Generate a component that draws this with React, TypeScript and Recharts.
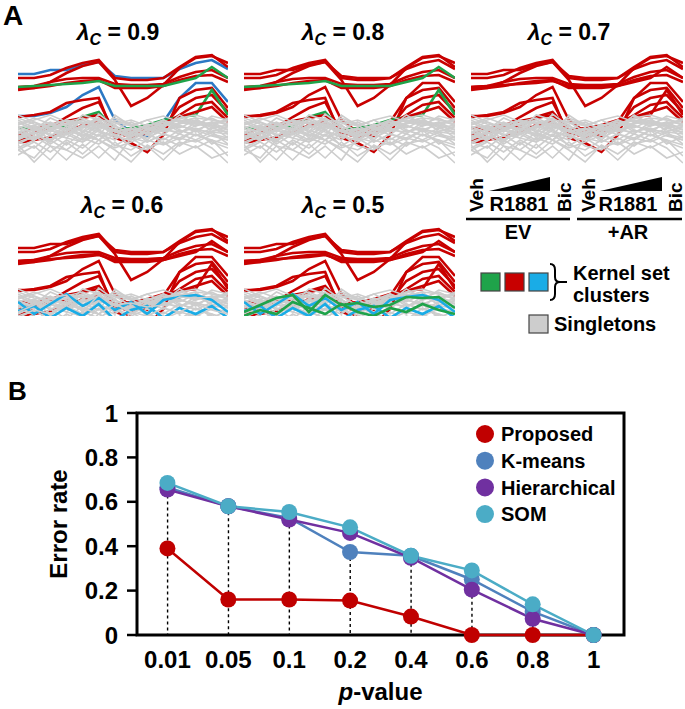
import React from 'react';
import {
  LineChart, Line, XAxis, YAxis, ComposedChart, Bar, ReferenceArea, Legend,
} from 'recharts';

const FONT = '"Liberation Sans", Arial, Helvetica, sans-serif';

// ---------- panel A data ----------
// 14 conditions: EV (Veh, R1881 x5, Bic) then +AR (same)
const conditions = [
  'EV Veh', 'EV R1', 'EV R2', 'EV R3', 'EV R4', 'EV R5', 'EV Bic',
  'AR Veh', 'AR R1', 'AR R2', 'AR R3', 'AR R4', 'AR R5', 'AR Bic',
];

// strongly responding genes (upper band)
const upperProfiles = [
  [96, 96, 100, 100, 105, 108, 94, 92, 92, 92, 101, 107, 110, 101],
  [92, 92, 95, 102, 107, 110, 92, 90, 90, 92, 103, 113, 115, 103],
  [82, 82, 88, 97, 104, 108, 90, 64, 72, 85, 102, 112, 114, 107],
  [83, 84, 88, 91, 92, 92, 86, 85, 85, 86, 93, 98, 100, 92],
  [80, 82, 84, 87, 89, 90, 82, 82, 82, 84, 90, 94, 95, 88],
  [83, 84, 85, 86, 87, 89, 84, 84, 84, 84, 88, 92, 103, 92],
];

// moderately responding genes
const middleProfiles = [
  [54, 54, 57, 63, 75, 83, 50, 38, 34, 48, 72, 87, 87, 68],
  [53, 55, 58, 67, 70, 72, 32, 27, 18, 35, 72, 80, 82, 62],
  [28, 37, 43, 53, 62, 68, 37, 33, 37, 43, 63, 72, 75, 58],
  [42, 42, 43, 43, 53, 58, 40, 42, 45, 50, 53, 55, 80, 55],
  [35, 42, 45, 49, 52, 55, 40, 36, 38, 45, 55, 65, 68, 52],
  [27, 30, 33, 38, 45, 48, 38, 38, 42, 47, 53, 58, 63, 48],
];

// never clustered
const singletonProfiles = [
  [40, 45, 38, 50, 42, 48, 35, 40, 44, 38, 46, 50, 42, 45],
  [35, 30, 42, 36, 45, 40, 48, 38, 32, 40, 45, 38, 48, 40],
  [25, 8, 24, 10, 26, 12, 28, 14, 24, 10, 26, 30, 22, 7],
  [45, 50, 55, 48, 52, 45, 40, 35, 38, 45, 52, 55, 50, 48],
  [30, 38, 28, 42, 35, 30, 45, 33, 40, 48, 38, 42, 36, 32],
  [50, 42, 48, 40, 55, 50, 38, 42, 36, 44, 50, 46, 52, 44],
  [20, 28, 18, 30, 22, 35, 25, 20, 30, 25, 32, 28, 35, 30],
  [38, 32, 45, 38, 30, 42, 50, 45, 35, 42, 36, 48, 40, 38],
  [42, 48, 40, 35, 45, 52, 42, 30, 38, 50, 44, 40, 46, 50],
  [28, 22, 35, 25, 38, 30, 22, 28, 35, 30, 40, 35, 30, 25],
  [48, 40, 52, 45, 48, 42, 46, 50, 44, 48, 42, 50, 45, 42],
  [15, 24, 10, 28, 16, 30, 20, 8, 25, 16, 28, 22, 30, 14],
  [33, 42, 30, 38, 50, 40, 32, 38, 42, 35, 48, 52, 38, 36],
  [44, 36, 40, 46, 38, 56, 44, 36, 46, 40, 38, 44, 48, 46],
  [22, 30, 40, 32, 28, 36, 30, 42, 28, 36, 30, 40, 26, 34],
  [36, 44, 34, 44, 40, 34, 55, 44, 50, 42, 55, 46, 44, 40],
  [52, 46, 44, 50, 46, 50, 48, 44, 50, 54, 48, 52, 50, 46],
  [26, 34, 24, 20, 32, 26, 36, 24, 20, 32, 24, 36, 28, 22],
  [46, 52, 46, 40, 42, 46, 40, 48, 40, 46, 50, 44, 54, 50],
  [20, 12, 30, 20, 12, 24, 10, 32, 22, 28, 16, 24, 12, 18],
  [38, 40, 36, 32, 44, 38, 34, 30, 42, 38, 44, 40, 38, 44],
  [31, 36, 46, 40, 34, 44, 38, 34, 44, 50, 40, 34, 42, 38],
  [55, 48, 42, 46, 50, 44, 52, 46, 42, 46, 52, 48, 44, 52],
];

// low-level genes that only cluster at small lambda
const lowProfiles = [
  [42, 30, 40, 50, 38, 46, 34, 42, 30, 44, 47, 49, 44, 32],
  [33, 38, 26, 36, 28, 40, 24, 34, 38, 26, 36, 30, 38, 26],
  [32, 39, 46, 49, 32, 49, 39, 41, 37, 39, 47, 46, 47, 36],
  [28, 34, 30, 42, 36, 30, 40, 32, 28, 36, 32, 40, 34, 30],
];

const lambdas = ['0.9', '0.8', '0.7', '0.6', '0.5'];

// cluster membership per lambda: r/g/b/c = cluster colour, s = singleton
const upperClusters = [
  ['b', 'r', 'r', 'r', 'r', 'g'],
  ['r', 'r', 'r', 'r', 'r', 'g'],
  ['r', 'r', 'r', 'r', 'r', 'r'],
  ['r', 'r', 'r', 'r', 'r', 'r'],
  ['r', 'r', 'r', 'r', 'r', 'r'],
];
const middleClusters = [
  ['b', 'r', 'r', 'g', 'r', 'r'],
  ['r', 'r', 'r', 'g', 'r', 'r'],
  ['r', 'r', 'r', 'r', 'r', 'r'],
  ['r', 'r', 'r', 'r', 'r', 'r'],
  ['r', 'r', 'r', 'r', 'r', 'r'],
];
const lowClusters = [
  ['s', 's', 's', 's'],
  ['s', 's', 's', 's'],
  ['s', 's', 's', 's'],
  ['c', 'c', 's', 's'],
  ['c', 'c', 'g', 'g'],
];

const clusterColors = {
  r: '#c80000',
  g: '#1fa34a',
  b: '#2b78c4',
  c: '#1aace6',
  s: '#cdcdcd',
};

// ---------- panel B data ----------
const pValues = ['0.01', '0.05', '0.1', '0.2', '0.4', '0.6', '0.8', '1'];
const proposed = [0.39, 0.16, 0.16, 0.155, 0.083, 0, 0, 0];
const kmeans = [0.665, 0.58, 0.527, 0.374, 0.357, 0.25, 0.105, 0];
const hierarchical = [0.655, 0.58, 0.52, 0.46, 0.348, 0.204, 0.073, 0];
const som = [0.685, 0.58, 0.554, 0.485, 0.357, 0.291, 0.138, 0];

const methods = [
  { key: 'proposed', name: 'Proposed', color: '#c00000' },
  { key: 'kmeans', name: 'K-means', color: '#4f81bd' },
  { key: 'hierarchical', name: 'Hierarchical', color: '#7030a0' },
  { key: 'som', name: 'SOM', color: '#4bacc6' },
];

// ---------- tables ----------
const profileRows = conditions.map((cond, i) => {
  const row: any = { idx: i, cond };
  upperProfiles.forEach((p, k) => { row['u' + k] = p[i]; });
  middleProfiles.forEach((p, k) => { row['m' + k] = p[i]; });
  singletonProfiles.forEach((p, k) => { row['s' + k] = p[i]; });
  lowProfiles.forEach((p, k) => { row['l' + k] = p[i]; });
  return row;
});

const errorRows = pValues.map((p, i) => ({
  p,
  proposed: proposed[i],
  kmeans: kmeans[i],
  hierarchical: hierarchical[i],
  som: som[i],
  drop: Math.min(kmeans[i], hierarchical[i], som[i]),
}));

function seriesFor(li: number) {
  const list: { key: string; code: string }[] = [];
  upperClusters[li].forEach((c, k) => list.push({ key: 'u' + k, code: c }));
  middleClusters[li].forEach((c, k) => list.push({ key: 'm' + k, code: c }));
  singletonProfiles.forEach((_, k) => list.push({ key: 's' + k, code: 's' }));
  lowClusters[li].forEach((c, k) => list.push({ key: 'l' + k, code: c }));
  return list;
}

const slots = [
  { left: 18, top: 50, width: 210, cx: 118, ty: 40, yMin: 0 },
  { left: 244, top: 50, width: 211, cx: 343, ty: 40, yMin: 0 },
  { left: 471, top: 50, width: 212, cx: 569, ty: 40, yMin: 0 },
  { left: 18, top: 224, width: 210, cx: 122, ty: 213, yMin: 28 },
  { left: 244, top: 224, width: 211, cx: 343, ty: 213, yMin: 28 },
];

function ProfilePanel({ li }: { li: number }) {
  const s = slots[li];
  const h = 120 - s.yMin;
  return (
    <div style={{ position: 'absolute', left: s.left, top: s.top }}>
      <LineChart width={s.width} height={h} data={profileRows} margin={{ top: 0, right: 0, bottom: 0, left: 0 }}>
        <XAxis dataKey="idx" type="number" domain={[0, 13]} hide />
        <YAxis type="number" domain={[s.yMin, 120]} hide allowDataOverflow />
        {seriesFor(li).map((sr) => (
          <Line
            key={sr.key}
            dataKey={sr.key}
            stroke={clusterColors[sr.code]}
            strokeWidth={sr.code === 's' ? 1.6 : 2.6}
            dot={false}
            activeDot={false}
            isAnimationActive={false}
          />
        ))}
      </LineChart>
    </div>
  );
}

function PanelAText() {
  const t = { fontFamily: FONT, fontWeight: 'bold' as const, fill: '#000' };
  return (
    <svg width={685} height={370} style={{ position: 'absolute', left: 0, top: 0 }}>
      <text x={3} y={25} fontSize={28} {...t}>A</text>
      {lambdas.map((l, i) => (
        <text key={l} x={slots[i].cx} y={slots[i].ty} textAnchor="middle" fontSize={23} {...t} style={{ whiteSpace: 'pre' }}>
          <tspan fontStyle="italic">λ</tspan>
          <tspan fontStyle="italic" fontSize={16} dy={5}>C</tspan>
          <tspan dy={-5}>{' = ' + l}</tspan>
        </text>
      ))}

      {/* condition key */}
      <text transform="translate(483,212) rotate(-90)" fontSize={19} {...t}>Veh</text>
      <polygon points="489,191 550,177 550,191" fill="#000" />
      <text x={519} y={211} textAnchor="middle" fontSize={20} {...t}>R1881</text>
      <text transform="translate(571,212) rotate(-90)" fontSize={19} {...t}>Bic</text>
      <line x1={466} x2={570} y1={219} y2={219} stroke="#000" strokeWidth={2.5} />
      <text x={518} y={239} textAnchor="middle" fontSize={20} {...t}>EV</text>

      <text transform="translate(595,212) rotate(-90)" fontSize={19} {...t}>Veh</text>
      <polygon points="600,191 662,177 662,191" fill="#000" />
      <text x={628} y={211} textAnchor="middle" fontSize={20} {...t}>R1881</text>
      <text transform="translate(682,212) rotate(-90)" fontSize={19} {...t}>Bic</text>
      <line x1={577} x2={682} y1={219} y2={219} stroke="#000" strokeWidth={2.5} />
      <text x={628} y={239} textAnchor="middle" fontSize={20} {...t}>+AR</text>

      {/* cluster key */}
      <rect x={481} y={273} width={19} height={18} fill={clusterColors.g} stroke="#444" strokeWidth={1.2} />
      <rect x={505} y={273} width={19} height={18} fill={clusterColors.r} stroke="#444" strokeWidth={1.2} />
      <rect x={529} y={273} width={19} height={18} fill={clusterColors.c} stroke="#444" strokeWidth={1.2} />
      <path
        d="M550,264 Q555,264 555,270 L555,277 Q555,282 560,282 Q555,282 555,287 L555,294 Q555,300 550,300 M560,282 L567,282"
        fill="none" stroke="#000" strokeWidth={2}
      />
      <text x={573} y={280} fontSize={20} {...t}>Kernel set</text>
      <text x={573} y={302} fontSize={20} {...t}>clusters</text>
      <rect x={529} y={315} width={19} height={18} fill="#cdcdcd" stroke="#444" strokeWidth={1.2} />
      <text x={554} y={331} fontSize={20} {...t}>Singletons</text>
    </svg>
  );
}

function DropLine(props: any) {
  const { x, y, width, height } = props;
  if (!height) return null;
  const cx = x + width / 2;
  return <line x1={cx} x2={cx} y1={y} y2={y + height} stroke="#000" strokeWidth={1.4} strokeDasharray="3 3" />;
}

// legend keeps the series order (Recharts would sort it by name)
function MethodLegend() {
  return (
    <svg width={170} height={120}>
      {methods.map((m, i) => (
        <g key={m.key}>
          <circle cx={15} cy={16 + i * 26.7} r={9} fill={m.color} />
          <text x={31} y={16 + i * 26.7} dy="0.36em" fontSize={20} fontWeight="bold" fontFamily={FONT} fill="#000">
            {m.name}
          </text>
        </g>
      ))}
    </svg>
  );
}

const tickStyle = { fontSize: 24, fontWeight: 'bold', fill: '#000', fontFamily: FONT };

function ErrorChart() {
  return (
    <div style={{ position: 'absolute', left: 0, top: 370 }}>
      <svg width={40} height={40} style={{ position: 'absolute', left: 0, top: 0 }}>
        <text x={8} y={30} fontSize={26} fontWeight="bold" fontFamily={FONT}>B</text>
      </svg>
      <ComposedChart width={685} height={339} data={errorRows} margin={{ top: 43, right: 61, bottom: 34, left: 57 }}>
        <ReferenceArea y1={0} y2={1} fill="none" stroke="#000" strokeWidth={3} ifOverflow="visible" />
        <XAxis
          dataKey="p"
          axisLine={false}
          tickLine={false}
          tickSize={0}
          tickMargin={16}
          height={40}
          tick={tickStyle}
          interval={0}
          label={{
            content: (lp: any) => {
              const vb = lp.viewBox || { x: 137, y: 635, width: 487, height: 40 };
              return (
                <text x={vb.x + vb.width / 2} y={vb.y + vb.height + 25} textAnchor="middle" fontSize={24} fontWeight="bold" fontFamily={FONT} fill="#000">
                  <tspan fontStyle="italic">p</tspan>-value
                </text>
              );
            },
          }}
        />
        <YAxis
          type="number"
          domain={[0, 1]}
          ticks={[0, 0.2, 0.4, 0.6, 0.8, 1]}
          tickFormatter={(v: number) => String(v)}
          axisLine={false}
          tickSize={10}
          tickMargin={9}
          tickLine={{ stroke: '#000', strokeWidth: 2.5 }}
          width={80}
          tick={tickStyle}
          label={{
            content: (lp: any) => {
              const vb = lp.viewBox || { x: 57, y: 413, width: 80, height: 222 };
              const cx = vb.x + 2;
              const cy = vb.y + vb.height / 2;
              return (
                <text transform={`translate(${cx + 8},${cy}) rotate(-90)`} textAnchor="middle" fontSize={24} fontWeight="bold" fontFamily={FONT} fill="#000">
                  Error rate
                </text>
              );
            },
          }}
        />
        <Bar dataKey="drop" legendType="none" shape={DropLine} isAnimationActive={false} />
        {methods.map((m) => (
          <Line
            key={m.key}
            dataKey={m.key}
            name={m.name}
            stroke={m.color}
            strokeWidth={2.5}
            dot={{ r: 8, fill: m.color, stroke: m.color, strokeWidth: 0 }}
            activeDot={false}
            isAnimationActive={false}
          />
        ))}
        <Legend
          layout="vertical"
          align="center"
          verticalAlign="middle"
          wrapperStyle={{ left: 470, top: 48, width: 170, height: 120 }}
          content={MethodLegend}
        />
      </ComposedChart>
    </div>
  );
}

export default function App() {
  return (
    <div style={{ position: 'absolute', left: 0, top: 0, width: 685, height: 709, background: '#fff', fontFamily: FONT }}>
      {lambdas.map((l, i) => (
        <ProfilePanel key={l} li={i} />
      ))}
      <PanelAText />
      <ErrorChart />
    </div>
  );
}
